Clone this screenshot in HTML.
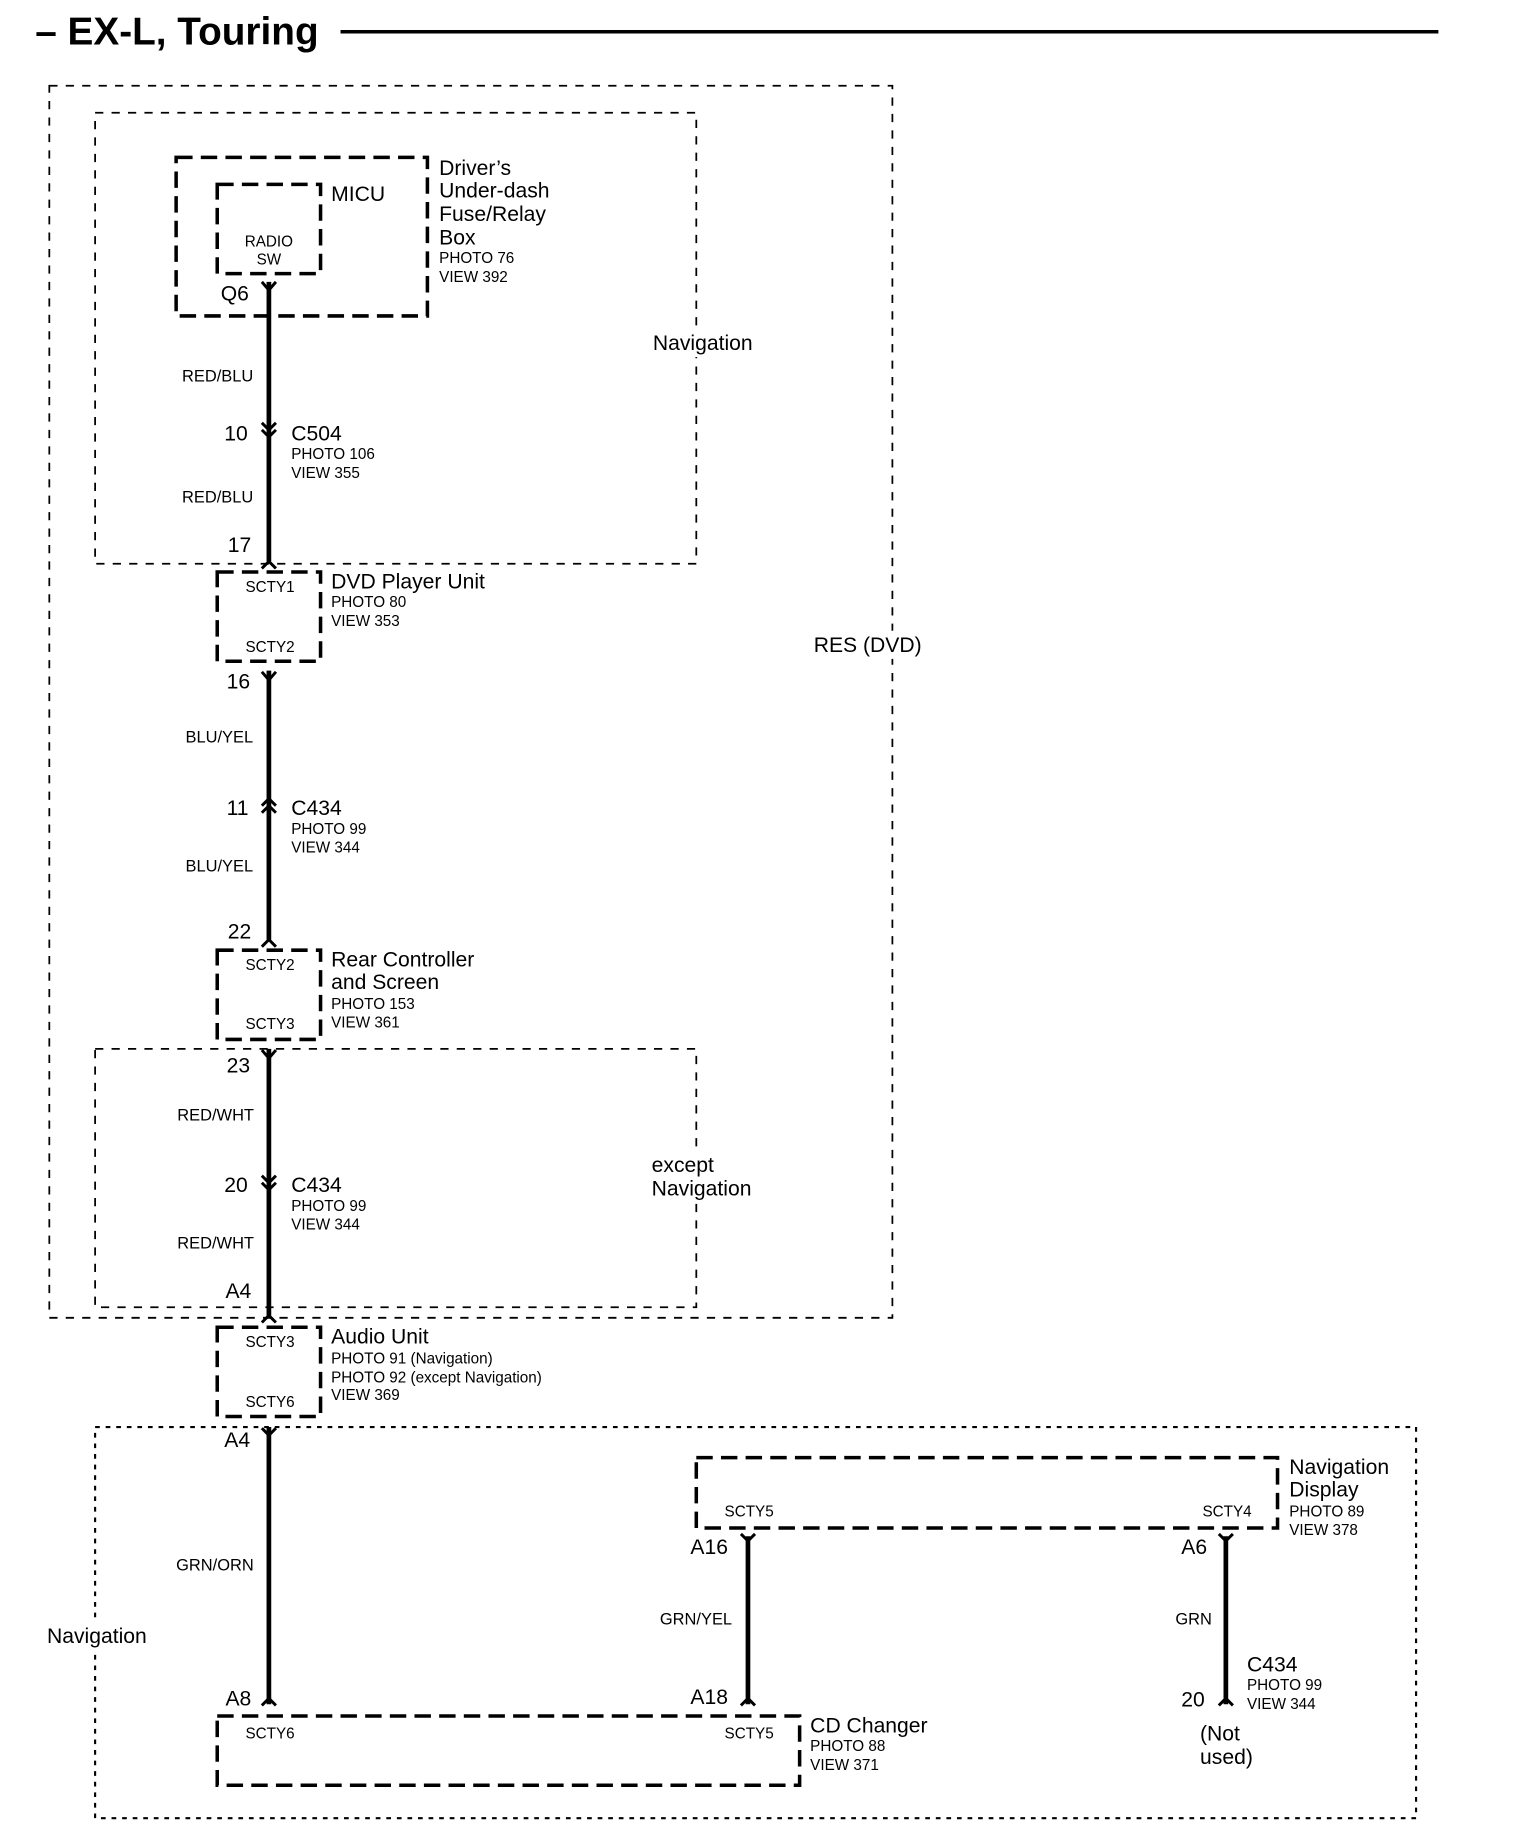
<!DOCTYPE html>
<html><head><meta charset="utf-8"><style>
html,body{margin:0;padding:0;background:#fff;}
svg{display:block;}
text{font-family:"Liberation Sans",sans-serif;fill:#000;}
.b{font-size:18px;}
.s{font-size:13.5px;}
.w{font-size:14px;}
.p{font-size:13px;}
</style></head><body>
<svg width="1520" height="1840" viewBox="0 0 1294.5 1566.6" preserveAspectRatio="none" xmlns="http://www.w3.org/2000/svg">
<text x="30" y="38" style="font-size:33px;font-weight:bold">– EX-L, Touring</text>
<line x1="290" y1="27" x2="1225" y2="27" stroke="#000" stroke-width="3"/>
<g fill="none" stroke="#000" stroke-width="1.5" stroke-dasharray="7 7">
<rect x="42" y="73" width="718" height="1049"/>
<rect x="81" y="96" width="512" height="384"/>
<rect x="81" y="893" width="512" height="220"/>
</g>
<rect x="81" y="1215" width="1125" height="333" fill="none" stroke="#000" stroke-width="1.8" stroke-dasharray="4 5"/>
<g fill="#fff">
<rect x="553" y="280" width="95" height="24"/>
<rect x="690" y="537" width="102" height="24"/>
<rect x="552" y="980" width="96" height="44"/>
<rect x="38" y="1381" width="94" height="24"/>
</g>
<g fill="none" stroke="#000" stroke-width="3" stroke-dasharray="14 7">
<rect x="150" y="134" width="214" height="135"/>
<rect x="185" y="157" width="88" height="76"/>
<rect x="185" y="487" width="88" height="76"/>
<rect x="185" y="809" width="88" height="76"/>
<rect x="185" y="1130" width="88" height="76"/>
<rect x="185" y="1461" width="496" height="59"/>
<rect x="593" y="1241" width="495" height="60"/>
</g>
<g stroke="#000" stroke-width="4" fill="none">
<line x1="229" y1="240" x2="229" y2="478"/>
<line x1="229" y1="571" x2="229" y2="800"/>
<line x1="229" y1="893" x2="229" y2="1120"/>
<line x1="229" y1="1215" x2="229" y2="1451"/>
<line x1="637" y1="1308" x2="637" y2="1451"/>
<line x1="1044" y1="1308" x2="1044" y2="1451"/>
</g>
<g stroke="#000" stroke-width="2.5" fill="none">
<path d="M223 240 L229 247 L235 240"/>
<path d="M223 360 L229 366 L235 360 M223 366 L229 372 L235 366"/>
<path d="M223 484 L229 478 L235 484"/>
<path d="M223 572 L229 579 L235 572"/>
<path d="M223 686 L229 680 L235 686 M223 692 L229 686 L235 692"/>
<path d="M223 806 L229 800 L235 806"/>
<path d="M223 894 L229 901 L235 894"/>
<path d="M223 1001 L229 1007 L235 1001 M223 1007 L229 1013 L235 1007"/>
<path d="M223 1126 L229 1120 L235 1126"/>
<path d="M223 1216 L229 1222 L235 1216"/>
<path d="M223 1452 L229 1446 L235 1452"/>
<path d="M631 1306 L637 1312 L643 1306"/>
<path d="M631 1452 L637 1446 L643 1452"/>
<path d="M1038 1306 L1044 1312 L1050 1306"/>
<path d="M1038 1452 L1044 1446 L1050 1452"/>
</g>
<text class="b" x="374" y="149">Driver’s</text>
<text class="b" x="374" y="168">Under-dash</text>
<text class="b" x="374" y="188">Fuse/Relay</text>
<text class="b" x="374" y="208">Box</text>
<text class="p" x="374" y="224">PHOTO 76</text>
<text class="p" x="374" y="240">VIEW 392</text>
<text class="b" x="282" y="171">MICU</text>
<text class="p" x="229" y="210" text-anchor="middle">RADIO</text>
<text class="p" x="229" y="225" text-anchor="middle">SW</text>
<text class="b" x="188" y="256">Q6</text>
<text class="b" x="556" y="298">Navigation</text>
<text class="w" x="155" y="325">RED/BLU</text>
<text class="b" x="191" y="375">10</text>
<text class="b" x="248" y="375">C504</text>
<text class="p" x="248" y="391">PHOTO 106</text>
<text class="p" x="248" y="407">VIEW 355</text>
<text class="w" x="155" y="428">RED/BLU</text>
<text class="b" x="194" y="470">17</text>
<text class="p" x="230" y="504" text-anchor="middle">SCTY1</text>
<text class="p" x="230" y="555" text-anchor="middle">SCTY2</text>
<text class="b" x="282" y="501">DVD Player Unit</text>
<text class="p" x="282" y="517">PHOTO 80</text>
<text class="p" x="282" y="533">VIEW 353</text>
<text class="b" x="693" y="555">RES (DVD)</text>
<text class="b" x="193" y="586">16</text>
<text class="w" x="158" y="632">BLU/YEL</text>
<text class="b" x="193" y="694">11</text>
<text class="b" x="248" y="694">C434</text>
<text class="p" x="248" y="710">PHOTO 99</text>
<text class="p" x="248" y="726">VIEW 344</text>
<text class="w" x="158" y="742">BLU/YEL</text>
<text class="b" x="194" y="799">22</text>
<text class="p" x="230" y="826" text-anchor="middle">SCTY2</text>
<text class="p" x="230" y="876" text-anchor="middle">SCTY3</text>
<text class="b" x="282" y="823">Rear Controller</text>
<text class="b" x="282" y="842">and Screen</text>
<text class="p" x="282" y="859">PHOTO 153</text>
<text class="p" x="282" y="875">VIEW 361</text>
<text class="b" x="193" y="913">23</text>
<text class="w" x="151" y="954">RED/WHT</text>
<text class="b" x="191" y="1015">20</text>
<text class="b" x="248" y="1015">C434</text>
<text class="p" x="248" y="1031">PHOTO 99</text>
<text class="p" x="248" y="1047">VIEW 344</text>
<text class="w" x="151" y="1063">RED/WHT</text>
<text class="b" x="555" y="998">except</text>
<text class="b" x="555" y="1018">Navigation</text>
<text class="b" x="192" y="1105">A4</text>
<text class="p" x="230" y="1147" text-anchor="middle">SCTY3</text>
<text class="p" x="230" y="1198" text-anchor="middle">SCTY6</text>
<text class="b" x="282" y="1144">Audio Unit</text>
<text class="p" x="282" y="1161">PHOTO 91 (Navigation)</text>
<text class="p" x="282" y="1177">PHOTO 92 (except Navigation)</text>
<text class="p" x="282" y="1192">VIEW 369</text>
<text class="b" x="191" y="1232">A4</text>
<text class="w" x="150" y="1337">GRN/ORN</text>
<text class="b" x="40" y="1399">Navigation</text>
<text class="b" x="192" y="1452">A8</text>
<text class="p" x="230" y="1480" text-anchor="middle">SCTY6</text>
<text class="p" x="638" y="1480" text-anchor="middle">SCTY5</text>
<text class="b" x="690" y="1475">CD Changer</text>
<text class="p" x="690" y="1491">PHOTO 88</text>
<text class="p" x="690" y="1507">VIEW 371</text>
<text class="p" x="638" y="1291" text-anchor="middle">SCTY5</text>
<text class="p" x="1045" y="1291" text-anchor="middle">SCTY4</text>
<text class="b" x="1098" y="1255">Navigation</text>
<text class="b" x="1098" y="1274">Display</text>
<text class="p" x="1098" y="1291">PHOTO 89</text>
<text class="p" x="1098" y="1307">VIEW 378</text>
<text class="b" x="588" y="1323">A16</text>
<text class="b" x="1006" y="1323">A6</text>
<text class="w" x="562" y="1383">GRN/YEL</text>
<text class="w" x="1001" y="1383">GRN</text>
<text class="b" x="588" y="1451">A18</text>
<text class="b" x="1062" y="1423">C434</text>
<text class="p" x="1062" y="1439">PHOTO 99</text>
<text class="p" x="1062" y="1455">VIEW 344</text>
<text class="b" x="1006" y="1453">20</text>
<text class="b" x="1022" y="1482">(Not</text>
<text class="b" x="1022" y="1502">used)</text>
</svg>
</body></html>
